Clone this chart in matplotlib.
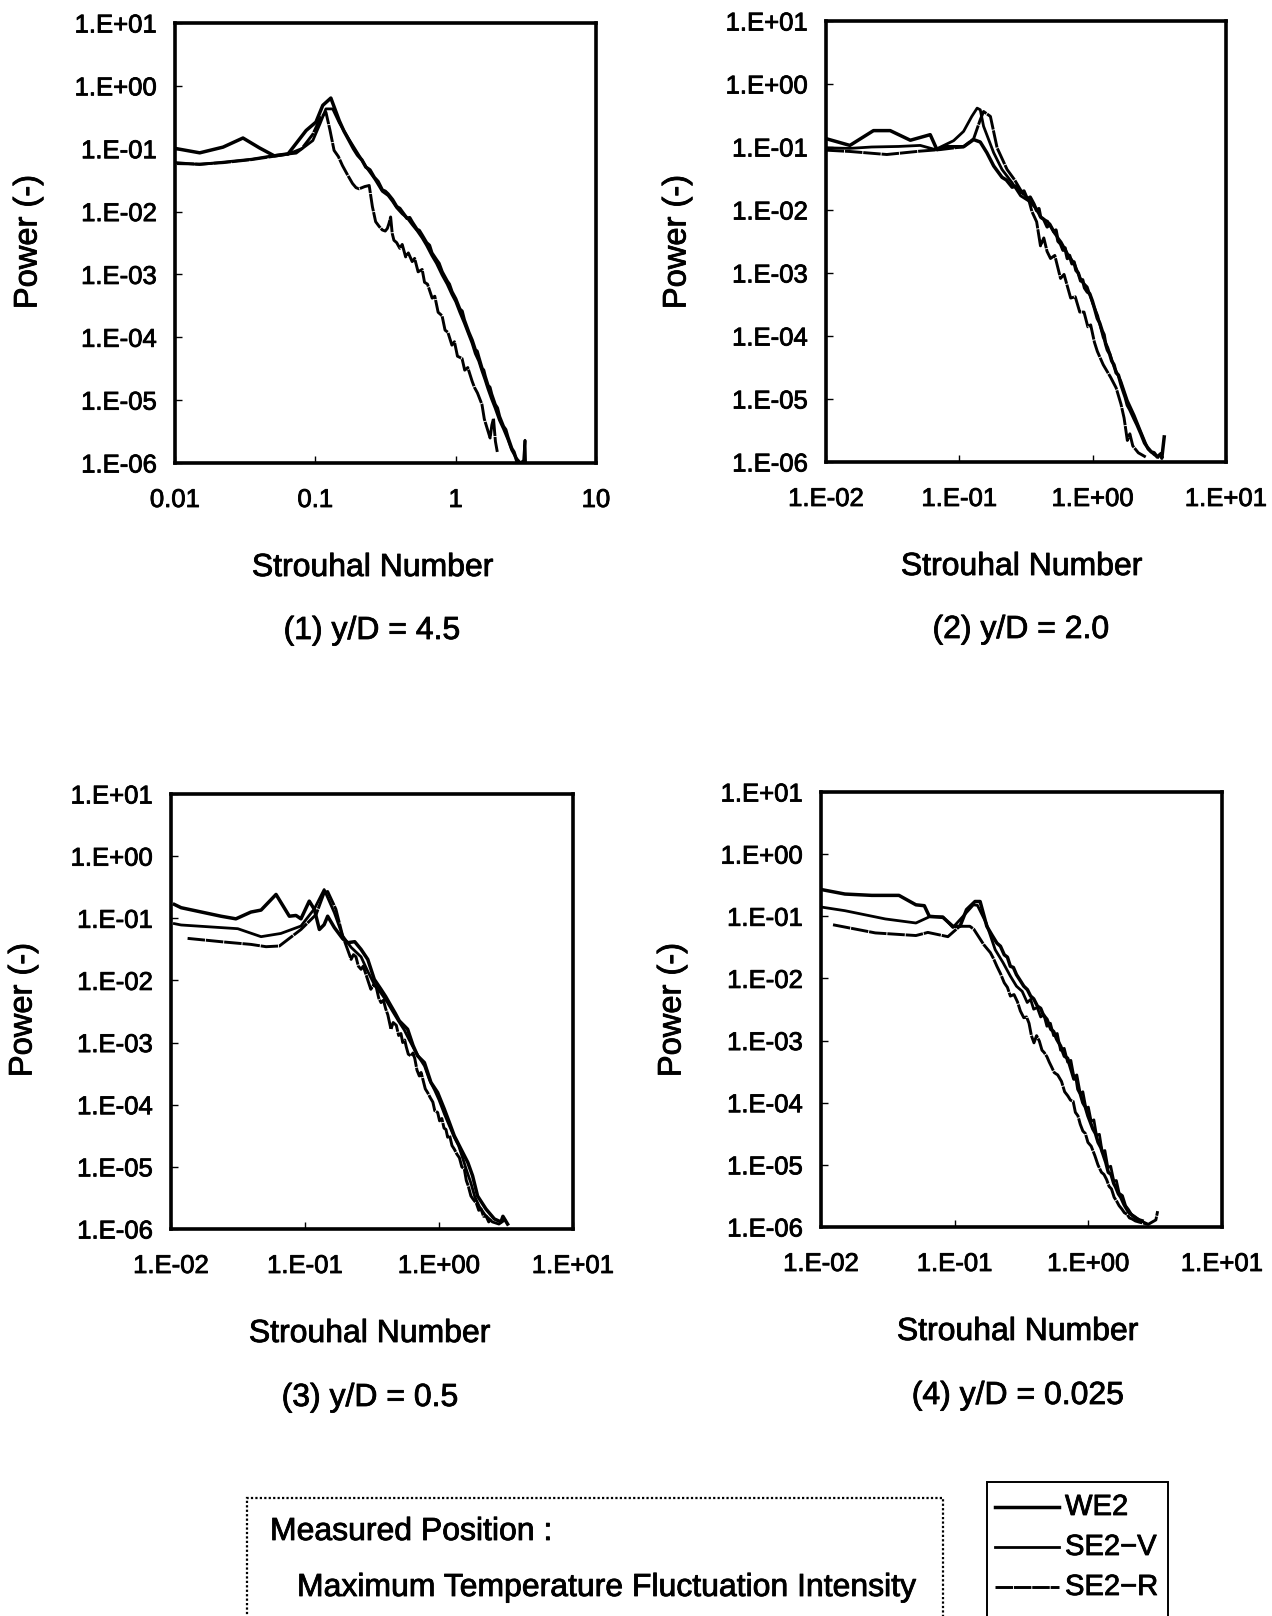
import matplotlib
matplotlib.use("Agg")
import matplotlib.pyplot as plt
import matplotlib.patheffects as pe
from matplotlib.patches import Rectangle
from matplotlib.lines import Line2D
from matplotlib.ticker import FixedLocator, FixedFormatter, NullLocator

plt.rcParams["font.family"] = ["Liberation Sans", "DejaVu Sans"]

# ---------------- data (Strouhal number, power) ----------------
# Panel 1 : y/D = 4.5
st1_we2 = [0.0103, 0.015, 0.022, 0.0305, 0.040, 0.051, 0.064, 0.086, 0.101, 0.113, 0.129, 0.148, 0.16, 0.174,
           0.187, 0.20, 0.215, 0.229, 0.245, 0.263, 0.28, 0.30, 0.315, 0.33, 0.355, 0.38, 0.40, 0.416, 0.45, 0.47,
           0.49, 0.53, 0.55, 0.577, 0.62, 0.65, 0.676, 0.73, 0.76, 0.80, 0.87, 0.90, 0.94, 1.0, 1.07, 1.11, 1.15,
           1.24, 1.31, 1.38, 1.42, 1.46, 1.54, 1.58, 1.62, 1.70, 1.75, 1.80, 1.91, 1.98, 2.05, 2.19, 2.27, 2.35,
           2.51, 2.6, 2.72]
pw1_we2 = [0.10, 0.086, 0.106, 0.148, 0.103, 0.077, 0.083, 0.195, 0.265, 0.49, 0.64, 0.28, 0.19, 0.135,
           0.10, 0.079, 0.066, 0.051, 0.046, 0.035, 0.030, 0.022, 0.021, 0.019, 0.0155, 0.012, 0.0112, 0.0099,
           0.0078, 0.0080, 0.0068, 0.0052, 0.0050, 0.0042, 0.0032, 0.0029, 0.0022, 0.0017, 0.0015, 0.0011, 0.00078,
           0.00070, 0.00053, 0.00041, 0.00028, 0.00026, 0.00019, 0.00012, 9.0e-5, 6.3e-5, 6.0e-5, 4.8e-5, 3.2e-5,
           3.0e-5, 2.4e-5, 1.7e-5, 1.6e-5, 1.25e-5, 8.5e-6, 7.5e-6, 5.5e-6, 3.8e-6, 3.4e-6, 2.6e-6, 1.7e-6,
           1.5e-6, 1.1e-6]
st1_sev = [0.0103, 0.015, 0.0235, 0.035, 0.051, 0.073, 0.096, 0.108, 0.119, 0.133, 0.148, 0.174, 0.20, 0.229, 0.263,
           0.30, 0.33, 0.355, 0.38, 0.416, 0.45, 0.49, 0.53, 0.577, 0.62, 0.676, 0.73, 0.80, 0.87, 0.94, 1.0, 1.07,
           1.15, 1.24, 1.31, 1.38, 1.46, 1.54, 1.62, 1.70, 1.80, 1.91, 2.05, 2.19, 2.35, 2.51, 2.7, 2.9, 3.05, 3.12, 3.15]
pw1_sev = [0.060, 0.056, 0.062, 0.068, 0.078, 0.085, 0.135, 0.25, 0.43, 0.43, 0.26, 0.14, 0.085, 0.052, 0.034,
           0.021, 0.018, 0.0145, 0.0115, 0.0092, 0.0080, 0.0062, 0.0050, 0.0038, 0.0029, 0.0020, 0.0015, 0.00098,
           0.00070, 0.00048, 0.00037, 0.00025, 0.00017, 0.00011, 8.0e-5, 5.5e-5, 4.2e-5, 2.9e-5, 2.1e-5, 1.5e-5,
           1.05e-5, 7.5e-6, 4.8e-6, 3.5e-6, 2.4e-6, 1.6e-6, 1.2e-6, 1.0e-6, 1.1e-6, 2.3e-6, 1.0e-6]
st1_ser = [0.0103, 0.015, 0.022, 0.035, 0.051, 0.064, 0.080, 0.096, 0.108, 0.119, 0.127, 0.136, 0.146, 0.156, 0.170,
           0.184, 0.195, 0.205, 0.225, 0.242, 0.255, 0.269, 0.285, 0.30, 0.315, 0.326, 0.335, 0.344, 0.353, 0.363,
           0.38, 0.40, 0.416, 0.44, 0.46, 0.49, 0.51, 0.54, 0.577, 0.60, 0.63, 0.68, 0.71, 0.75, 0.80, 0.84, 0.88,
           0.94, 0.98, 1.03, 1.11, 1.16, 1.22, 1.31, 1.36, 1.43, 1.54, 1.60, 1.68, 1.76, 1.81, 1.86, 1.92, 1.98]
pw1_ser = [0.058, 0.057, 0.060, 0.067, 0.076, 0.082, 0.10, 0.17, 0.30, 0.38, 0.20, 0.094, 0.075, 0.054, 0.038,
           0.028, 0.024, 0.023, 0.025, 0.026, 0.012, 0.0069, 0.0058, 0.0051, 0.0049, 0.0054, 0.0065, 0.0082, 0.0045,
           0.0035, 0.0032, 0.0026, 0.0030, 0.0019, 0.0022, 0.0016, 0.0018, 0.0011, 0.0012, 0.00075, 0.00070, 0.00042,
           0.00045, 0.00025, 0.00022, 0.00013, 0.00012, 7.5e-5, 8.5e-5, 5.0e-5, 4.6e-5, 3.0e-5, 3.3e-5, 2.0e-5,
           1.6e-5, 1.3e-5, 8.5e-6, 5.0e-6, 3.5e-6, 2.5e-6, 4.0e-6, 5.1e-6, 2.2e-6, 1.5e-6]

# Panel 2 : y/D = 2.0
st2_we2 = [0.0101, 0.0151, 0.0227, 0.0303, 0.0429, 0.0605, 0.0679, 0.0807, 0.1076, 0.128, 0.1435, 0.161, 0.181,
           0.209, 0.225, 0.249, 0.265, 0.29, 0.305, 0.323, 0.34, 0.362, 0.38, 0.395, 0.406, 0.43, 0.456, 0.475,
           0.512, 0.53, 0.55, 0.574, 0.60, 0.62, 0.646, 0.67, 0.70, 0.724, 0.75, 0.78, 0.813, 0.84, 0.87, 0.912,
           0.95, 0.995, 1.03, 1.084, 1.13, 1.18, 1.216, 1.25, 1.29, 1.34, 1.39, 1.445, 1.5, 1.56, 1.63, 1.7, 1.76,
           1.82, 1.9, 2.05, 2.15, 2.3, 2.45, 2.58, 2.75, 2.89, 3.05, 3.24, 3.3, 3.44]
pw2_we2 = [0.135, 0.106, 0.182, 0.182, 0.128, 0.157, 0.091, 0.101, 0.101, 0.131, 0.12, 0.081, 0.050,
           0.033, 0.030, 0.023, 0.024, 0.019, 0.020, 0.015, 0.016, 0.0125, 0.0098, 0.0105, 0.0078, 0.0071, 0.0054,
           0.0060, 0.0045, 0.0048, 0.0032, 0.0029, 0.0023, 0.0025, 0.0017, 0.0019, 0.0014, 0.0015, 0.0011, 0.0010,
           0.00075, 0.00078, 0.00058, 0.0005, 0.00047, 0.00036, 0.00028, 0.00019, 0.00016, 0.00012, 0.000105,
           7.5e-5, 6.0e-5, 5.2e-5, 4.0e-5, 3.5e-5, 2.6e-5, 2.4e-5, 1.7e-5, 1.3e-5, 1.05e-5, 8.0e-6, 6.8e-6, 4.8e-6,
           3.9e-6, 2.8e-6, 2.0e-6, 1.7e-6, 1.45e-6, 1.4e-6, 1.2e-6, 1.35e-6, 1.15e-6, 2.5e-6]
st2_sev = [0.0101, 0.015, 0.022, 0.035, 0.0509, 0.066, 0.0906, 0.1076, 0.124, 0.136, 0.1435, 0.152, 0.181, 0.209,
           0.249, 0.288, 0.33, 0.37, 0.41, 0.46, 0.52, 0.58, 0.65, 0.73, 0.82, 0.91, 1.0, 1.09, 1.2, 1.3, 1.45, 1.63,
           1.82, 2.05, 2.3, 2.6, 2.9, 3.1]
pw2_sev = [0.097, 0.095, 0.10, 0.102, 0.106, 0.091, 0.126, 0.177, 0.306, 0.414, 0.39, 0.213, 0.081, 0.044, 0.027,
           0.0168, 0.014, 0.011, 0.0075, 0.0066, 0.0042, 0.0031, 0.002, 0.0014, 0.00075, 0.0006, 0.00033, 0.00021,
           0.000095, 6.5e-5, 3.2e-5, 1.9e-5, 9.5e-6, 5.5e-6, 3.0e-6, 1.6e-6, 1.3e-6, 1.2e-6]
st2_ser = [0.0101, 0.015, 0.0286, 0.0509, 0.072, 0.1076, 0.128, 0.1435, 0.152, 0.171, 0.192, 0.228, 0.26, 0.30, 0.33,
           0.35, 0.38, 0.406, 0.43, 0.455, 0.483, 0.52, 0.574, 0.61, 0.684, 0.74, 0.80, 0.861, 0.92, 0.966, 1.03,
           1.084, 1.2, 1.365, 1.5, 1.63, 1.72, 1.82, 1.9, 2.0, 2.2, 2.5]
pw2_ser = [0.089, 0.085, 0.076, 0.086, 0.091, 0.101, 0.135, 0.271, 0.366, 0.306, 0.097, 0.044, 0.030, 0.018, 0.015,
           0.0095, 0.0065, 0.0027, 0.0036, 0.0022, 0.0017, 0.0019, 0.00082, 0.00095, 0.0004, 0.00042, 0.00024,
           0.00024, 0.00014, 0.00015, 8.0e-5, 5.7e-5, 3.5e-5, 2.2e-5, 1.5e-5, 8.3e-6, 5.0e-6, 2.2e-6, 2.8e-6,
           1.8e-6, 1.4e-6, 1.2e-6]

# Panel 3 : y/D = 0.5
st3_we2 = [0.0106, 0.0119, 0.0236, 0.0305, 0.0395, 0.047, 0.0608, 0.0764, 0.0857, 0.0933, 0.1076, 0.1175, 0.128,
           0.139, 0.1476, 0.1656, 0.191, 0.208, 0.235, 0.262, 0.294, 0.329, 0.369, 0.40, 0.438, 0.47, 0.506, 0.583,
           0.64, 0.693, 0.778, 0.871, 0.977, 1.096, 1.194, 1.3, 1.46, 1.64, 1.78, 1.94, 2.24, 2.59, 2.9, 3.0, 3.25]
pw3_we2 = [0.167, 0.148, 0.108, 0.098, 0.126, 0.1355, 0.242, 0.108, 0.111, 0.098, 0.189, 0.139, 0.066, 0.079,
           0.108, 0.071, 0.047, 0.0405, 0.042, 0.0316, 0.0218, 0.0104, 0.0072, 0.0055, 0.0039, 0.0030, 0.00223,
           0.00164, 0.0009, 0.00061, 0.000476, 0.000228, 0.000157, 8.5e-5, 5.2e-5, 3.16e-5, 1.93e-5, 1.18e-5,
           7.2e-6, 3.4e-6, 2.1e-6, 1.45e-6, 1.3e-6, 1.6e-6, 1.2e-6]
st3_sev = [0.0106, 0.0119, 0.0315, 0.047, 0.066, 0.0933, 0.1175, 0.139, 0.1656, 0.191, 0.221, 0.262, 0.294, 0.33,
           0.37, 0.41, 0.45, 0.50, 0.55, 0.60, 0.66, 0.72, 0.78, 0.85, 0.93, 1.0, 1.1, 1.2, 1.3, 1.4, 1.5, 1.6, 1.73,
           1.85, 2.0, 2.2, 2.5, 2.8, 3.1]
pw3_sev = [0.082, 0.078, 0.068, 0.0506, 0.057, 0.075, 0.142, 0.29, 0.123, 0.052, 0.034, 0.024, 0.014, 0.0085,
           0.0062, 0.0045, 0.0032, 0.0022, 0.0016, 0.0011, 0.00075, 0.00055, 0.00042, 0.00025, 0.00017, 0.00012,
           7.0e-5, 4.5e-5, 3.0e-5, 2.2e-5, 1.4e-5, 9.0e-6, 5.5e-6, 3.3e-6, 2.3e-6, 1.7e-6, 1.3e-6, 1.2e-6, 1.4e-6]
st3_ser = [0.0133, 0.025, 0.0395, 0.0512, 0.0644, 0.0933, 0.121, 0.139, 0.1476, 0.17, 0.191,
           0.221, 0.23, 0.24, 0.25, 0.262, 0.272, 0.285, 0.297, 0.31, 0.325, 0.34, 0.355, 0.369, 0.385, 0.40, 0.415,
           0.438, 0.455, 0.48, 0.50, 0.52, 0.536, 0.555, 0.57, 0.59, 0.618, 0.64, 0.66, 0.685, 0.713, 0.735, 0.76,
           0.79, 0.822, 0.86, 0.9, 0.93, 0.977, 1.01, 1.05, 1.09, 1.127, 1.16, 1.2, 1.25, 1.3, 1.36, 1.42, 1.48,
           1.545, 1.6, 1.65, 1.73, 1.8, 1.9, 1.98, 2.06, 2.15, 2.25, 2.35, 2.44]
pw3_ser = [0.0475, 0.0415, 0.038, 0.0349, 0.0358, 0.066, 0.115, 0.258, 0.27, 0.14, 0.052,
           0.0218, 0.026, 0.024, 0.017, 0.0151, 0.017, 0.0125, 0.0095, 0.0072, 0.0085, 0.0078, 0.0052, 0.0044,
           0.0048, 0.0035, 0.0028, 0.00164, 0.0021, 0.0019, 0.0013, 0.0014, 0.001, 0.0011, 0.00085, 0.00065,
           0.00061, 0.00068, 0.00055, 0.00036, 0.00029, 0.00033, 0.00025, 0.00018, 0.000157, 0.00013, 0.00011,
           8.0e-5, 7.5e-5, 5.5e-5, 6.0e-5, 4.2e-5, 4.0e-5, 3.0e-5, 3.2e-5, 2.2e-5, 1.93e-5, 1.6e-5, 1.4e-5, 1.0e-5,
           9.2e-6, 6.0e-6, 5.0e-6, 3.4e-6, 3.0e-6, 2.6e-6, 2.0e-6, 2.1e-6, 1.6e-6, 1.6e-6, 1.3e-6, 1.45e-6]

# Panel 4 : y/D = 0.025
st4_we2 = [0.010, 0.0151, 0.024, 0.0383, 0.0513, 0.0593, 0.0646, 0.0817, 0.097, 0.1096, 0.1227, 0.142, 0.155,
           0.174, 0.19, 0.207, 0.22, 0.235, 0.248, 0.261, 0.275, 0.29, 0.31, 0.329, 0.35, 0.37, 0.39, 0.416, 0.44,
           0.46, 0.49, 0.525, 0.55, 0.58, 0.62, 0.662, 0.70, 0.74, 0.78, 0.81, 0.836, 0.87, 0.91, 0.95, 0.993, 1.03,
           1.08, 1.13, 1.183, 1.24, 1.3, 1.35, 1.41, 1.48, 1.55, 1.6, 1.68, 1.75, 1.85, 1.92, 2.0, 2.12, 2.25, 2.4,
           2.52]
pw4_we2 = [0.27, 0.228, 0.217, 0.217, 0.153, 0.148, 0.10, 0.096, 0.069, 0.069, 0.128, 0.173, 0.173,
           0.069, 0.05, 0.037, 0.033, 0.024, 0.022, 0.0157, 0.015, 0.0115, 0.0092, 0.0075, 0.0066, 0.0052, 0.0047,
           0.00358, 0.0033, 0.0026, 0.0022, 0.00151, 0.0014, 0.00105, 0.00082, 0.00056, 0.00052, 0.00035, 0.00024,
           0.00026, 0.000165, 0.00014, 0.0001, 8.5e-5, 6.15e-5, 5.0e-5, 3.8e-5, 3.2e-5, 2.3e-5, 1.9e-5, 1.4e-5,
           1.1e-5, 7.6e-6, 7.0e-6, 5.0e-6, 4.4e-6, 3.4e-6, 3.0e-6, 2.3e-6, 2.0e-6, 1.74e-6, 1.55e-6, 1.4e-6,
           1.3e-6, 1.26e-6]
st4_sev = [0.010, 0.0151, 0.0303, 0.0513, 0.0646, 0.0817, 0.097, 0.1156, 0.138, 0.148, 0.172, 0.201,
           0.23, 0.261, 0.29, 0.32, 0.349, 0.37, 0.39, 0.415, 0.44, 0.465, 0.49, 0.52, 0.55, 0.585, 0.62, 0.66,
           0.70, 0.74, 0.78, 0.82, 0.87, 0.91, 0.96, 1.0, 1.05, 1.1, 1.15, 1.21, 1.27, 1.33, 1.4, 1.47, 1.55, 1.62,
           1.7, 1.8, 1.9, 2.0, 2.1, 2.25, 2.4, 2.7]
pw4_sev = [0.141, 0.123, 0.0906, 0.078, 0.098, 0.098, 0.066, 0.10, 0.153, 0.15, 0.078, 0.029,
           0.018, 0.0109, 0.0075, 0.0062, 0.0041, 0.0046, 0.0032, 0.0034, 0.0024, 0.0026, 0.0017, 0.0019, 0.0012,
           0.0013, 0.0007, 0.00075, 0.00045, 0.00048, 0.00026, 0.00028, 0.00014, 0.00015, 8.0e-5, 8.5e-5, 5.0e-5,
           5.3e-5, 3.0e-5, 3.1e-5, 1.6e-5, 1.7e-5, 9.0e-6, 9.5e-6, 5.5e-6, 5.6e-6, 3.5e-6, 3.2e-6, 2.2e-6, 1.9e-6,
           1.6e-6, 1.45e-6, 1.3e-6, 1.15e-6]
st4_ser = [0.0123, 0.0255, 0.0513, 0.063, 0.089, 0.109, 0.13, 0.139,
           0.165, 0.175, 0.185, 0.195, 0.207, 0.22, 0.235, 0.248, 0.261, 0.278, 0.295, 0.31, 0.329, 0.345, 0.36,
           0.375, 0.392, 0.41, 0.43, 0.45, 0.468, 0.49, 0.51, 0.53, 0.556, 0.59, 0.63, 0.665, 0.702, 0.735, 0.77,
           0.80, 0.836, 0.87, 0.91, 0.95, 0.993, 1.05, 1.12, 1.18, 1.253, 1.31, 1.37, 1.43, 1.49, 1.56, 1.63, 1.7,
           1.78, 1.86, 1.95, 2.03, 2.12, 2.25, 2.4, 2.6, 2.8, 3.0, 3.2, 3.3]
pw4_ser = [0.073, 0.054, 0.049, 0.055, 0.047, 0.069, 0.069, 0.062,
           0.035, 0.030, 0.026, 0.021, 0.0157, 0.012, 0.0085, 0.0072, 0.0052, 0.0055, 0.0042, 0.0030, 0.00233,
           0.0024, 0.0019, 0.0012, 0.00092, 0.0012, 0.00098, 0.0007, 0.00064, 0.00055, 0.00045, 0.00038, 0.000305,
           0.00028, 0.00022, 0.00015, 0.000129, 0.00011, 0.000105, 7.0e-5, 6.15e-5, 4.5e-5, 3.5e-5, 3.2e-5, 2.3e-5,
           2.0e-5, 1.4e-5, 1.0e-5, 7.6e-6, 7.0e-6, 5.8e-6, 4.5e-6, 4.1e-6, 3.0e-6, 2.6e-6, 2.2e-6, 1.95e-6, 1.7e-6,
           1.6e-6, 1.4e-6, 1.35e-6, 1.25e-6, 1.2e-6, 1.15e-6, 1.1e-6, 1.2e-6, 1.3e-6, 1.8e-6]

series_names = ["WE2", "SE2\u2212V", "SE2\u2212R"]
subtitles = ["(1) y/D = 4.5", "(2) y/D = 2.0", "(3) y/D = 0.5", "(4) y/D = 0.025"]
x_ticks = [0.01, 0.1, 1, 10]
x_labels_plain = ["0.01", "0.1", "1", "10"]
x_labels_sci = ["1.E-02", "1.E-01", "1.E+00", "1.E+01"]
y_ticks = [1e1, 1e0, 1e-1, 1e-2, 1e-3, 1e-4, 1e-5, 1e-6]
y_labels = ["1.E+01", "1.E+00", "1.E-01", "1.E-02", "1.E-03", "1.E-04", "1.E-05", "1.E-06"]
x_label_text = "Strouhal Number"
y_label_text = "Power (-)"

panel_data = [
    [(st1_we2, pw1_we2), (st1_sev, pw1_sev), (st1_ser, pw1_ser)],
    [(st2_we2, pw2_we2), (st2_sev, pw2_sev), (st2_ser, pw2_ser)],
    [(st3_we2, pw3_we2), (st3_sev, pw3_sev), (st3_ser, pw3_ser)],
    [(st4_we2, pw4_we2), (st4_sev, pw4_sev), (st4_ser, pw4_ser)],
]

# ---------------- layout ----------------
W, H = 1272, 1616
fig = plt.figure(figsize=(W / 100, H / 100), dpi=100)

def fx(px):
    return px / W

def fy(py):
    return 1 - py / H

ink = [pe.withStroke(linewidth=0.6, foreground="black")]

boxes = [(175, 23, 596, 463), (826, 21, 1226, 462), (171, 794, 573, 1229), (821, 792, 1222, 1227)]
xlab_pos = [(373, 568), (1022, 567), (370, 1334), (1018, 1332)]
sub_pos = [(372, 631), (1021, 630), (370, 1398), (1018, 1396)]
ylab_pos = [(28, 242), (677, 242), (23, 1010), (672, 1010)]

styles = [dict(lw=2.5, ls="-"), dict(lw=2.0, ls="-"), dict(lw=2.1, ls=(0, (6.0, 0.3)))]

for i, (l, t, r, b) in enumerate(boxes):
    ax = fig.add_axes([fx(l), fy(b), (r - l) / W, (b - t) / H])
    for (st, pw), stl in zip(panel_data[i], styles):
        ax.plot(st, pw, color="black", solid_joinstyle="round", **stl)
    ax.set_xscale("log")
    ax.set_yscale("log")
    ax.set_xlim(0.01, 10)
    ax.set_ylim(1e-6, 1e1)
    ax.xaxis.set_major_locator(FixedLocator(x_ticks))
    ax.xaxis.set_major_formatter(FixedFormatter(x_labels_plain if i == 0 else x_labels_sci))
    ax.xaxis.set_minor_locator(NullLocator())
    ax.yaxis.set_major_locator(FixedLocator(y_ticks))
    ax.yaxis.set_major_formatter(FixedFormatter(y_labels))
    ax.yaxis.set_minor_locator(NullLocator())
    ax.tick_params(axis="both", direction="in", length=5, width=1, labelsize=18.5, colors="black")
    ax.tick_params(axis="y", pad=13)
    ax.tick_params(axis="x", pad=18)
    for lab in ax.get_xticklabels() + ax.get_yticklabels():
        lab.set_path_effects(ink)
    for sp in ax.spines.values():
        sp.set_linewidth(2.6)
        sp.set_color("black")
    fig.text(fx(xlab_pos[i][0]), fy(xlab_pos[i][1]), x_label_text, ha="center", va="center", fontsize=23,
             path_effects=ink)
    fig.text(fx(sub_pos[i][0]), fy(sub_pos[i][1]), subtitles[i], ha="center", va="center", fontsize=23,
             path_effects=ink)
    fig.text(fx(ylab_pos[i][0]), fy(ylab_pos[i][1]), y_label_text, ha="center", va="center", fontsize=23.5,
             rotation=90, path_effects=ink)

# Measured position box (dotted, cut by the page bottom)
fig.add_artist(Rectangle((fx(247), fy(1640)), (943 - 247) / W, (1640 - 1498) / H, transform=fig.transFigure,
                         fill=False, edgecolor="black", lw=1.6, ls=(0, (1, 1))))
fig.text(fx(270), fy(1532), "Measured Position :", ha="left", va="center", fontsize=23, path_effects=ink)
fig.text(fx(297), fy(1588), "Maximum Temperature Fluctuation Intensity", ha="left", va="center", fontsize=23,
         path_effects=ink)

# Legend box
fig.add_artist(Rectangle((fx(987), fy(1640)), (1168 - 987) / W, (1640 - 1482) / H, transform=fig.transFigure,
                         fill=False, edgecolor="black", lw=1.4))
for k, (name, stl) in enumerate(zip(series_names, styles)):
    yy = 1507 + 40 * k
    fig.add_artist(Line2D([fx(995), fx(1059)], [fy(yy), fy(yy)], transform=fig.transFigure, color="black", **stl))
    fig.text(fx(1065), fy(yy), name, ha="left", va="center", fontsize=21, path_effects=ink)

fig.savefig("out.png", dpi=100)
